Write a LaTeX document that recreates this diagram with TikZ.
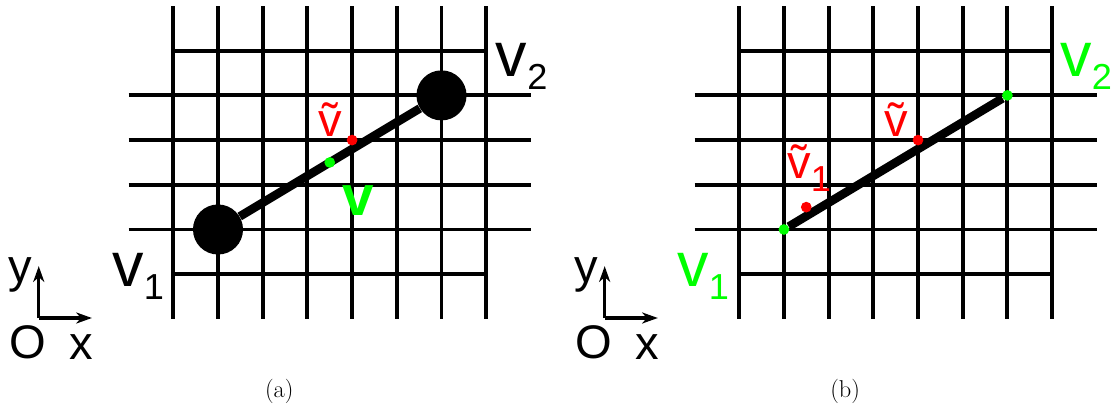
\documentclass[tikz,border=0pt]{standalone}
\usepackage{fontspec}
\newfontfamily\labfont{Liberation Sans}
\usetikzlibrary{arrows.meta}
\definecolor{vgreen}{RGB}{0,255,0}
\definecolor{vred}{RGB}{255,0,0}
\newcommand{\vsub}[1]{\raisebox{-0.29cm}{\fontsize{23}{23}\selectfont #1}}
\tikzset{
	gridline/.style={line width=2.5pt},
	seg/.style={line width=5.5pt},
	axisline/.style={line width=2pt,->},
	bigdot/.style={circle,fill=black,minimum size=1.12cm,inner sep=0pt},
	smalldot/.style={circle,minimum size=0.24cm,inner sep=0pt},
	lbl/.style={font=\labfont\fontsize{40}{40}\selectfont,inner sep=0pt,anchor=base west},
	tlbl/.style={font=\labfont\fontsize{30}{30}\selectfont,inner sep=0pt,anchor=base west},
	axlbl/.style={font=\labfont\fontsize{30}{30}\selectfont,inner sep=0pt,anchor=base},
	captxt/.style={font=\fontsize{15.5}{15.5}\selectfont,inner sep=0pt,anchor=base}
}
\begin{document}
\begin{tikzpicture}[>={Stealth[length=10pt,width=7pt,inset=3pt]},x=1cm,y=1cm]
	\useasboundingbox (-3.877,-2.016) rectangle (21.089,7.134);
	\def \dx{12.66}
	% Lưới và trục cho cả hai hình
	\foreach \pan/\sh in {a/0,b/\dx}{
		\begin{scope}[xshift=\sh cm]
			\foreach \i in {0,...,7}
			\draw[gridline] (\i,0) -- (\i,7);
			\draw[gridline] (0,1) -- (7,1);
			\draw[gridline] (0,6) -- (7,6);
			\foreach \j in {2,...,5}
			\draw[gridline] (-1,\j) -- (8,\j);
			% hệ trục Oxy
			\coordinate (o\pan) at (-3.01,0.02);
			\draw[axisline] (o\pan) -- ++(0,1.16);
			\draw[axisline] (o\pan) -- ++(1.19,0);
			\node[axlbl] (y\pan) at (-3.42,0.82) {y};
			\node[axlbl] (O\pan) at (-3.26,-0.88) {O};
			\node[axlbl] (x\pan) at (-2.05,-0.9) {x};
			\node[captxt] (cap\pan) at (2.37,-1.75) {(\pan)};
		\end{scope}
	}
	% Hình (a)
	\node[bigdot] (v1a) at (1,2) {};
	\node[bigdot] (v2a) at (6,5) {};
	\draw[seg] (v1a) -- (v2a);
	\node[smalldot,fill=vgreen] (va) at (3.5,3.5) {};
	\node[smalldot,fill=vred] (vta) at (4,4) {};
	\node[lbl] (l2a) at (7.21,5.43) {v\vsub{2}};
	\node[lbl] (l1a) at (-1.37,0.714) {v\vsub{1}};
	\node[tlbl,text=vred] (lta) at (3.25,4.09) {\~v};
	\node[lbl,text=vgreen,font=\labfont\bfseries\fontsize{36}{36}\selectfont] (lva) at (3.77,2.31) {v};
	% Hình (b)
	\begin{scope}[xshift=\dx cm]
		\node[smalldot,fill=vgreen] (v1b) at (1,2) {};
		\node[smalldot,fill=vgreen] (v2b) at (6,5) {};
		\draw[seg] (v1b) -- (v2b);
		\node[smalldot,fill=vred] (vtb) at (4,4) {};
		\node[smalldot,fill=vred] (vt1b) at (1.5,2.5) {};
		\node[lbl,text=vgreen] (l2b) at (7.18,5.43) {v\vsub{2}};
		\node[lbl,text=vgreen] (l1b) at (-1.39,0.714) {v\vsub{1}};
		\node[tlbl,text=vred] (ltb) at (3.25,4.07) {\~v};
		\node[tlbl,text=vred] (lt1b) at (1.07,3.15) {\~v\vsub{1}};
	\end{scope}
\end{tikzpicture}
\end{document}
